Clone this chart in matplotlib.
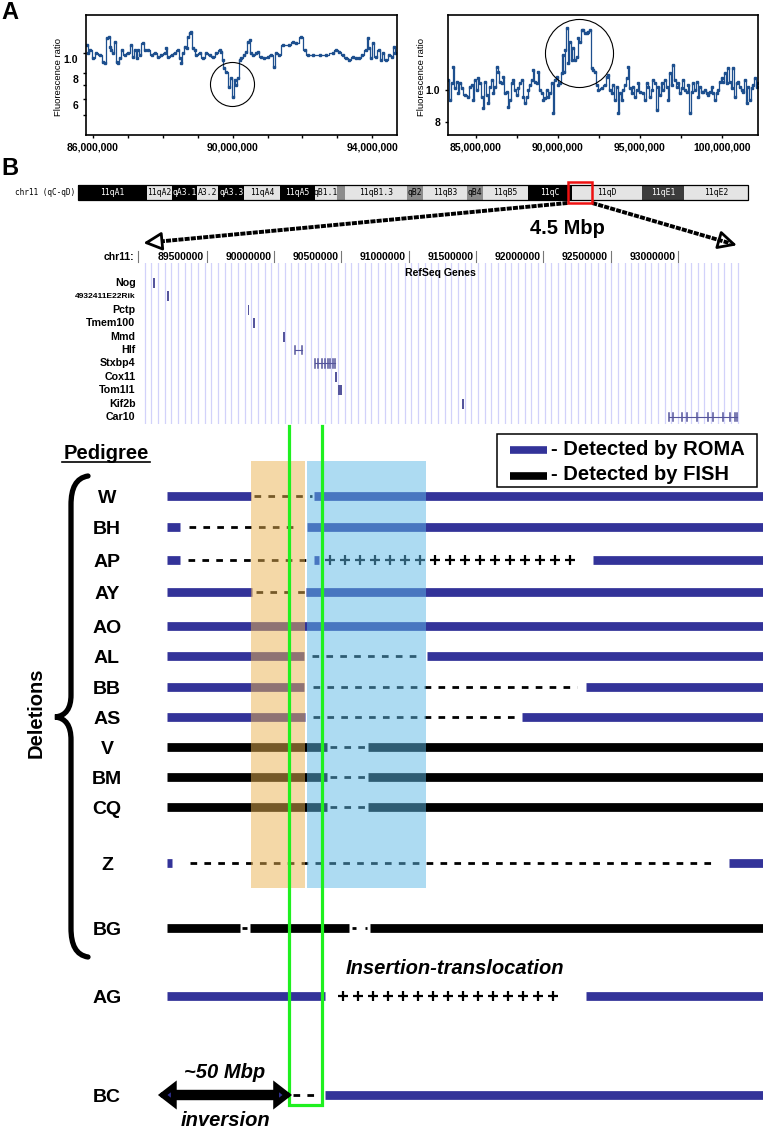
import numpy as np
import matplotlib
matplotlib.use("Agg")
import matplotlib.pyplot as plt
from matplotlib.patches import Rectangle, FancyArrowPatch, PathPatch
from matplotlib.path import Path
from matplotlib.transforms import blended_transform_factory, ScaledTranslation

plt.rcParams["font.family"] = ["Liberation Sans", "DejaVu Sans"]
plt.rcParams["font.weight"] = "bold"

# ---------------------------------------------------------------
# Panel A: ROMA fluorescence ratio profiles (position in Mb, ratio)
# ---------------------------------------------------------------
left_pos = [85.84, 85.87, 85.91, 86.01, 86.10, 86.20, 86.30, 86.34, 86.39, 86.47,
            86.49, 86.53, 86.58, 86.63, 86.68, 86.72, 86.77, 86.82, 86.91, 87.01,
            87.10, 87.15, 87.20, 87.25, 87.30, 87.34, 87.44, 87.49, 87.58, 87.68,
            87.77, 87.87, 87.96, 88.06, 88.10, 88.15, 88.25, 88.34, 88.44, 88.49,
            88.53, 88.58, 88.63, 88.68, 88.72, 88.77, 88.82, 88.87, 88.91, 88.96,
            89.06, 89.15, 89.25, 89.34, 89.44, 89.53, 89.63, 89.68, 89.72, 89.74,
            89.82, 89.91, 89.96, 90.01, 90.06, 90.10, 90.15, 90.20, 90.25, 90.34,
            90.39, 90.44, 90.49, 90.53, 90.58, 90.68, 90.72, 90.82, 90.91, 91.01,
            91.10, 91.20, 91.25, 91.34, 91.44, 91.63, 91.72, 91.82, 91.96, 92.06,
            92.15, 92.30, 92.49, 92.68, 92.87, 92.96, 93.06, 93.15, 93.25, 93.34,
            93.44, 93.53, 93.63, 93.72, 93.82, 93.87, 93.91, 93.96, 94.01, 94.10,
            94.20, 94.25, 94.30, 94.39, 94.49, 94.58, 94.63, 94.66]
left_ratio = [1.094, 0.996, 1.034, 0.942, 0.996, 0.978, 0.908, 0.891, 1.178, 1.191,
              1.073, 1.034, 0.996, 1.135, 0.908, 0.891, 0.942, 1.034, 0.978, 0.996,
              1.094, 0.960, 1.034, 0.942, 1.034, 0.978, 1.114, 1.034, 1.034, 0.978,
              0.996, 0.960, 0.978, 0.996, 1.054, 0.960, 0.978, 0.996, 1.034, 0.942,
              0.891, 0.996, 1.073, 1.054, 1.200, 1.246, 1.269, 1.054, 1.034, 0.978,
              0.996, 0.942, 0.996, 0.978, 0.960, 0.996, 1.034, 1.015, 0.925, 0.843,
              0.812, 0.681, 0.753, 0.614, 0.740, 0.699, 0.753, 0.925, 0.942, 0.978,
              1.015, 1.135, 1.156, 0.996, 0.978, 0.996, 1.015, 0.960, 0.942, 0.960,
              0.978, 0.858, 0.996, 0.978, 1.094, 1.094, 1.135, 1.114, 1.200, 1.034,
              0.978, 0.978, 0.978, 0.978, 0.996, 1.034, 1.015, 0.978, 0.942, 0.925,
              0.960, 0.942, 0.942, 0.978, 1.034, 1.178, 1.054, 0.942, 1.114, 0.960,
              1.034, 0.925, 0.996, 0.925, 0.978, 0.960, 1.073, 0.996]

right_pos = [83.31, 83.41, 83.52, 83.62, 83.72, 83.82, 83.92, 84.02, 84.13, 84.33,
             84.53, 84.63, 84.74, 84.84, 84.94, 85.04, 85.14, 85.24, 85.35, 85.45,
             85.55, 85.65, 85.75, 85.85, 85.96, 86.06, 86.16, 86.26, 86.36, 86.46,
             86.57, 86.67, 86.77, 86.87, 86.97, 87.07, 87.17, 87.28, 87.38, 87.48,
             87.58, 87.68, 87.78, 87.89, 87.99, 88.09, 88.19, 88.29, 88.39, 88.50,
             88.60, 88.70, 88.80, 88.90, 89.00, 89.11, 89.21, 89.31, 89.41, 89.51,
             89.61, 89.72, 89.82, 89.92, 90.02, 90.12, 90.22, 90.28, 90.37, 90.43,
             90.53, 90.63, 90.73, 90.83, 90.93, 91.04, 91.14, 91.24, 91.34, 91.44,
             91.54, 91.65, 91.75, 91.85, 91.95, 92.05, 92.15, 92.26, 92.36, 92.46,
             92.66, 92.87, 92.97, 93.07, 93.17, 93.27, 93.37, 93.48, 93.58, 93.68,
             93.78, 93.88, 93.98, 94.09, 94.19, 94.29, 94.39, 94.49, 94.59, 94.70,
             94.80, 94.90, 95.00, 95.20, 95.30, 95.41, 95.51, 95.61, 95.71, 95.81,
             95.91, 96.02, 96.12, 96.22, 96.32, 96.42, 96.52, 96.63, 96.73, 96.83,
             96.93, 97.03, 97.13, 97.24, 97.34, 97.44, 97.54, 97.64, 97.74, 97.85,
             97.95, 98.05, 98.15, 98.25, 98.35, 98.46, 98.56, 98.66, 98.76, 98.86,
             98.96, 99.07, 99.17, 99.27, 99.37, 99.47, 99.57, 99.67, 99.78, 99.88,
             99.98, 100.08, 100.18, 100.28, 100.39, 100.49, 100.59, 100.69, 100.79, 100.89,
             101.00, 101.10, 101.20, 101.30, 101.40, 101.50, 101.61, 101.71, 101.81, 101.91,
             102.01, 102.11, 102.17]
right_ratio = [1.072, 0.933, 1.048, 1.177, 1.012, 1.060, 0.977, 1.048, 1.012, 0.966,
               0.955, 1.024, 1.036, 0.933, 1.072, 1.000, 1.085, 1.048, 0.955, 0.880,
               1.060, 0.966, 0.911, 1.024, 1.072, 0.977, 1.024, 1.177, 1.137, 1.060,
               1.048, 1.098, 0.977, 0.988, 0.890, 0.933, 1.048, 1.072, 1.000, 0.966,
               1.012, 1.048, 1.072, 0.955, 0.911, 0.955, 1.000, 1.036, 1.072, 1.150,
               1.060, 1.048, 1.137, 1.000, 0.977, 0.933, 0.944, 1.000, 0.955, 0.977,
               1.048, 0.850, 1.072, 1.098, 1.036, 1.048, 1.123, 1.277, 1.137, 1.322,
               1.538, 1.205, 1.401, 1.233, 1.337, 1.233, 1.262, 1.434, 1.401, 1.520,
               1.520, 1.485, 1.485, 1.502, 1.520, 1.163, 1.150, 1.137, 1.036, 1.000,
               1.012, 1.036, 1.098, 1.110, 1.000, 0.977, 1.036, 0.933, 1.024, 0.850,
               0.977, 0.933, 1.000, 1.036, 1.085, 1.177, 1.012, 0.977, 1.024, 0.955,
               1.000, 1.048, 0.988, 0.977, 0.933, 1.048, 1.024, 0.955, 1.000, 1.072,
               1.048, 0.870, 1.024, 0.966, 1.048, 1.000, 1.072, 1.024, 0.933, 1.123,
               1.036, 1.191, 1.072, 1.024, 1.048, 0.977, 1.012, 1.072, 1.000, 0.988,
               1.036, 0.850, 0.988, 1.048, 1.000, 1.060, 0.955, 1.024, 0.988, 0.988,
               1.000, 0.977, 0.966, 0.988, 1.024, 0.977, 0.933, 0.977, 1.000, 1.060,
               1.085, 1.060, 1.123, 1.048, 1.163, 1.060, 1.012, 1.163, 0.955, 1.048,
               1.060, 1.024, 1.000, 0.988, 1.072, 0.911, 1.024, 0.933, 1.012, 1.036,
               1.085, 1.024, 1.048]

# ---------------------------------------------------------------
# Panel B: chromosome 11 bands (Mb)
# ---------------------------------------------------------------
band_names = ["11qA1", "11qA2", "qA3.1", "A3.2", "qA3.3", "11qA4", "11qA5", "qB1.1",
              "", "11qB1.3", "qB2", "11qB3", "qB4", "11qB5", "11qC", "11qD", "11qE1", "11qE2"]
band_starts = [0.0, 12.5, 17.1, 21.6, 25.5, 30.2, 36.7, 43.1, 47.1, 48.5, 59.8, 62.7,
               70.7, 73.6, 81.8, 89.8, 102.5, 110.2]
band_ends = [12.5, 17.1, 21.6, 25.5, 30.2, 36.7, 43.1, 47.1, 48.5, 59.8, 62.7, 70.7,
             73.6, 81.8, 89.8, 102.5, 110.2, 121.8]
band_stains = ["gpos100", "gneg", "gpos100", "gneg", "gpos100", "gneg", "gpos100", "gneg",
               "gpos50", "gneg", "gpos50", "gneg", "gpos50", "gneg", "gpos100", "gneg",
               "gpos75", "gneg"]
chrom_length = 121.8
window = (88.99, 93.484)          # the 4.5 Mbp window shown below

# RefSeq genes in the window (Mb)
gene_names = ["Nog", "4932411E22Rik", "Pctp", "Tmem100", "Mmd", "Hlf", "Stxbp4",
              "Cox11", "Tom1l1", "Kif2b", "Car10"]
gene_starts = [89.107, 89.208, 89.804, 89.849, 90.069, 90.156, 90.305, 90.460,
               90.474, 91.403, 92.933]
gene_ends = [89.110, 89.217, 89.813, 89.853, 90.081, 90.208, 90.455, 90.463,
             90.506, 91.406, 93.442]
gene_exon_marks = {
    "Hlf": [90.156, 90.208],
    "Stxbp4": [90.305, 90.329, 90.354, 90.379, 90.404, 90.416, 90.441, 90.453],
    "Car10": [92.935, 92.964, 93.031, 93.068, 93.143, 93.224, 93.262, 93.336,
              93.388, 93.425, 93.440],
}
track_ticks = [89.5, 90.0, 90.5, 91.0, 91.5, 92.0, 92.5, 93.0]

# ---------------------------------------------------------------
# Pedigree: segments per mouse line (row, start Mb, end Mb)
# ---------------------------------------------------------------
pedigree_rows = ["W", "BH", "AP", "AY", "AO", "AL", "BB", "AS", "V", "BM", "CQ",
                 "Z", "BG", "AG", "BC"]
roma_segments = [("W", 89.205, 89.829), ("W", 90.297, 93.7),
                 ("BH", 89.205, 89.302), ("BH", 90.245, 93.7),
                 ("AP", 89.205, 89.302), ("AP", 90.297, 90.334), ("AP", 92.370, 93.7),
                 ("AY", 89.205, 89.837), ("AY", 90.238, 93.7),
                 ("AO", 89.205, 93.7),
                 ("AL", 89.205, 90.223), ("AL", 91.137, 93.7),
                 ("BB", 89.205, 90.223), ("BB", 92.318, 93.7),
                 ("AS", 89.205, 90.230), ("AS", 91.842, 93.7),
                 ("Z", 89.205, 89.242), ("Z", 93.380, 93.7),
                 ("AG", 89.205, 90.379), ("AG", 92.318, 93.7),
                 ("BC", 90.379, 93.7)]
fish_segments = [("V", 89.205, 90.394), ("V", 90.698, 93.7),
                 ("BM", 89.205, 90.394), ("BM", 90.698, 93.7),
                 ("CQ", 89.205, 90.394), ("CQ", 90.698, 93.7),
                 ("BG", 89.205, 89.747), ("BG", 89.822, 90.557), ("BG", 90.713, 93.7)]
deleted_segments = [("W", 89.851, 90.282), ("BH", 89.368, 90.193), ("AP", 89.361, 90.245),
                    ("AY", 89.866, 90.230), ("AL", 90.282, 91.085), ("BB", 90.290, 92.251),
                    ("AS", 90.290, 91.790), ("V", 90.416, 90.684), ("BM", 90.416, 90.684),
                    ("CQ", 90.416, 90.684), ("Z", 89.376, 93.254), ("BG", 89.762, 89.799),
                    ("BG", 90.579, 90.609), ("BG", 90.676, 90.691), ("BC", 90.141, 90.342)]
inserted_segments = [("AP", 90.416, 92.288), ("AG", 90.513, 92.184)]
inversion_span = (89.138, 90.134)
orange_region = (89.829, 90.230)
blue_region = (90.245, 91.129)
breakpoints = (90.111, 90.357)

# ---------------------------------------------------------------
# layout (pixels of the 763 x 1129 picture)
# ---------------------------------------------------------------
W, H = 763, 1129
BLUE = "#333399"
TRACE = "#1d4f8e"
row_y = {"W": 496, "BH": 527, "AP": 560, "AY": 592, "AO": 626, "AL": 656, "BB": 687,
         "AS": 717, "V": 747, "BM": 777, "CQ": 807, "Z": 863, "BG": 928, "AG": 996,
         "BC": 1095}

fig = plt.figure(figsize=(W / 100, H / 100), dpi=100)


def box(x0, y0, x1, y1):
    return [x0 / W, 1 - y1 / H, (x1 - x0) / W, (y1 - y0) / H]


canvas = fig.add_axes([0, 0, 1, 1])
canvas.set_xlim(0, W)
canvas.set_ylim(H, 0)
canvas.axis("off")

canvas.text(1, 19, "A", fontsize=17, va="baseline")
canvas.text(1, 175, "B", fontsize=17, va="baseline")


# ---- Panel A ----
def profile(rect, pos, ratio, xlim, ylim, major, minor, yticks, ylabels,
            ring, ring_ms, shift_px, ylab_x):
    ax = fig.add_axes(rect)
    ax.plot(pos, ratio, color=TRACE, lw=0.9, drawstyle="steps-mid")
    ax.plot(pos, ratio, ls="none", marker="s", ms=1.7, color=TRACE)
    ax.plot(*ring, marker="o", ms=ring_ms, mfc="none", mec="black", mew=0.8)
    ax.set_yscale("log")
    ax.set_xlim(*xlim)
    ax.set_ylim(*ylim)
    ax.set_xticks(major)
    ax.set_xticklabels([f"{int(round(m * 1e6)):,}" for m in major])
    ax.set_xticks(minor, minor=True)
    ax.set_yticks(yticks)
    ax.set_yticklabels(ylabels)
    ax.yaxis.set_minor_locator(plt.NullLocator())
    ax.tick_params(labelsize=7.5, length=2.5, width=1, pad=3)
    ax.tick_params(which="minor", length=2.5, width=1)
    for lbl in ax.get_yticklabels():
        lbl.set_transform(lbl.get_transform()
                          + ScaledTranslation(0, -shift_px / 100, fig.dpi_scale_trans))
    ax.set_ylabel("Fluorescence ratio", fontsize=6.8)
    ax.yaxis.set_label_coords(ylab_x, 0.48)
    for sp in ax.spines.values():
        sp.set_linewidth(1.2)
    return ax


profile(box(86, 15, 397, 135), left_pos, left_ratio, (85.8, 94.71), (0.40, 1.529),
        [86, 90, 94], [87, 88, 89, 91, 92, 93], [1.0, 0.8, 0.7, 0.6, 0.5],
        ["1.0", "8", "", "6", ""], (89.97, 0.71), 31.7, 6, -0.075)
profile(box(448, 15, 758, 135), right_pos, right_ratio, (83.29, 102.2), (0.731, 1.688),
        [85, 90, 95, 100], [87.5, 92.5, 97.5], [1.0, 0.8], ["1.0", "8"],
        (91.28, 1.295), 49, 0, -0.072)

# ---- ideogram ----
stain_fill = {"gpos100": "black", "gpos75": "#3c3c3c", "gpos50": "#8c8c8c", "gneg": "#e4e4e4"}
ideo = fig.add_axes(box(78, 185, 748, 200))
ideo.set_xlim(0, chrom_length)
ideo.set_ylim(0, 1)
ideo.axis("off")
ideo.bar(band_starts, 1, width=np.array(band_ends) - np.array(band_starts), align="edge",
         color=[stain_fill[s] for s in band_stains], edgecolor="none")
for name, s, e, st in zip(band_names, band_starts, band_ends, band_stains):
    tc = "white" if st in ("gpos100", "gpos75") else "black"
    ideo.text((s + e) / 2, 0.5, name, ha="center", va="center", fontsize=5.8,
              family="DejaVu Sans Mono", fontweight="normal", color=tc)
ideo.add_patch(Rectangle((0, 0), chrom_length, 1, fill=False, lw=0.9, ec="black", clip_on=False))
ideo.add_patch(Rectangle((window[0], -0.2), window[1] - window[0], 1.4, fill=False, lw=1.8,
                         ec="#ee1111", clip_on=False, zorder=5))
canvas.text(15, 192.5, "chr11 (qC-qD)", ha="left", va="center", fontsize=5.6,
            family="DejaVu Sans Mono", fontweight="normal")

# ---- gene track ----
trk = fig.add_axes(box(138, 263, 743, 424))
trk.set_xlim(*window)
trk.set_ylim(len(gene_names) - 0.48, -1.49)
trk.axis("off")
for g in np.arange(89.04, window[1], 0.0495):
    trk.axvline(g, color="#d2d2fa", lw=0.9, zorder=0)
bt = blended_transform_factory(trk.transData, trk.transAxes)
for p in track_ticks:
    trk.text(p - 0.02, 1.037, f"{int(round(p * 1e6))}", transform=bt, ha="right",
             va="center", fontsize=7.5)
    trk.plot([p, p], [1.006, 1.075], transform=bt, color="#777777", lw=0.8, clip_on=False)
trk.plot([window[0], window[0]], [1.006, 1.075], transform=bt, color="#777777", lw=0.8,
         clip_on=False)
trk.text(-0.006, 1.037, "chr11:", transform=trk.transAxes, ha="right", va="center",
         fontsize=7.5)
trk.text(0.5, 0.938, "RefSeq Genes", transform=trk.transAxes, ha="center", va="center",
         fontsize=7.6)
lt = blended_transform_factory(trk.transAxes, trk.transData)
GENE = "#55559c"
min_w = 1.3 * (window[1] - window[0]) / 605
for i, (name, s, e) in enumerate(zip(gene_names, gene_starts, gene_ends)):
    trk.text(-0.004, i, name, transform=lt, ha="right", va="center",
             fontsize=6.0 if len(name) > 8 else 7.7)
    if name in gene_exon_marks:
        trk.plot([s, e], [i, i], color=GENE, lw=0.8)
        for m in gene_exon_marks[name]:
            trk.plot([m, m], [i - 0.32, i + 0.32], color=GENE, lw=1.1)
    else:
        w = max(e - s, min_w)
        trk.add_patch(Rectangle(((s + e - w) / 2, i - 0.38), w, 0.76, color=GENE, lw=0))

# ---- arrows from the red box to the gene track ----
to_canvas = canvas.transData.inverted()
for xa, xb, yb in [(window[0], window[0] + 0.04, 1.124), (window[1], window[1] - 0.045, 1.11)]:
    p0 = to_canvas.transform(ideo.transData.transform((xa, -0.2)))
    p1 = to_canvas.transform(bt.transform((xb, yb)))
    mid = p0 + (p1 - p0) * 0.955
    canvas.plot([p0[0], mid[0]], [p0[1], mid[1]], color="black", lw=2.8,
                dashes=(1.3, 0.3), solid_capstyle="butt")
    canvas.add_patch(FancyArrowPatch(mid, p1, arrowstyle="-|>,head_length=0.8,head_width=0.4",
                                     mutation_scale=14, lw=2.0, ec="black", fc="white",
                                     shrinkA=0, shrinkB=0))
canvas.text(567, 228, "4.5 Mbp", ha="center", va="center", fontsize=14.5)

# ---- pedigree ----
mb_per_px = (window[1] - window[0]) / (743 - 138)
ped = fig.add_axes(box(0, 426, W, H))
ped.set_xlim(window[0] - 138 * mb_per_px, window[0] + (W - 138) * mb_per_px)
ped.set_ylim(H, 426)
ped.axis("off")
ped.patch.set_alpha(0)

for row, s, e in roma_segments:
    ped.plot([s, e], [row_y[row]] * 2, color=BLUE, lw=6.3, solid_capstyle="butt", zorder=2)
for row, s, e in fish_segments:
    ped.plot([s, e], [row_y[row]] * 2, color="black", lw=6.3, solid_capstyle="butt", zorder=2)
for row, s, e in deleted_segments:
    ped.plot([s, e], [row_y[row]] * 2, color="black", lw=2.0, dashes=(2.4, 2.6),
             dash_capstyle="butt", zorder=2)
for row, s, e in inserted_segments:
    xs = np.arange(s, e + 1e-6, 15 * mb_per_px)
    ped.plot(xs, [row_y[row]] * len(xs), ls="none", marker="+", ms=6.8, mew=1.6,
             color="black", zorder=2)

top, bottom = 461, 888
ped.add_patch(Rectangle((orange_region[0], top), orange_region[1] - orange_region[0],
                        bottom - top, color="#ebb351", alpha=0.5, lw=0, zorder=3))
ped.add_patch(Rectangle((blue_region[0], top), blue_region[1] - blue_region[0],
                        bottom - top, color="#5db9e7", alpha=0.5, lw=0, zorder=3))
ped.plot([breakpoints[0], breakpoints[0], breakpoints[1], breakpoints[1]],
         [426, 1105, 1105, 426], color="#1ff01f", lw=2.3, zorder=4,
         solid_joinstyle="miter", clip_on=False)

# inversion arrow for BC
yb = row_y["BC"]
ped.plot([inversion_span[0] + 0.06, inversion_span[1] - 0.06], [yb, yb], color="black",
         lw=7.5, solid_capstyle="butt", zorder=4)
ped.add_patch(FancyArrowPatch((inversion_span[0], yb), (inversion_span[1], yb),
                              arrowstyle="<|-|>,head_length=0.8,head_width=0.62",
                              mutation_scale=10, lw=4.2, ec="black", fc=BLUE,
                              shrinkA=0, shrinkB=0, zorder=5, joinstyle="miter"))

# labels, brace and legend on the canvas
for name in pedigree_rows:
    canvas.text(107, row_y[name] + 7, name, ha="center", va="baseline", fontsize=14)
canvas.text(106, 459, "Pedigree", ha="center", va="baseline", fontsize=14.5)
canvas.plot([62, 150], [462, 462], color="black", lw=1.2)
canvas.text(36, 713, "Deletions", rotation=90, ha="center", va="center", fontsize=14.5)
brace = Path([(88, 476), (76, 478), (71, 488), (71, 505), (71, 695),
              (71, 708), (66, 716), (55, 717), (66, 718), (71, 726), (71, 740),
              (71, 928), (71, 945), (76, 955), (88, 957)],
             [Path.MOVETO, Path.CURVE4, Path.CURVE4, Path.CURVE4, Path.LINETO,
              Path.CURVE4, Path.CURVE4, Path.CURVE4, Path.CURVE4, Path.CURVE4, Path.CURVE4,
              Path.LINETO, Path.CURVE4, Path.CURVE4, Path.CURVE4])
canvas.add_patch(PathPatch(brace, fill=False, lw=3.8, ec="black", capstyle="round"))

canvas.text(455, 968, "Insertion-translocation", ha="center", va="center",
            fontsize=14.5, style="italic")
canvas.text(225, 1072, "~50 Mbp", ha="center", va="center", fontsize=14.5, style="italic")
canvas.text(225, 1120, "inversion", ha="center", va="center", fontsize=14.5, style="italic")

canvas.add_patch(Rectangle((497, 434), 260, 53, fill=False, ec="black", lw=1.1))
canvas.plot([510, 547], [449.5, 449.5], color=BLUE, lw=5.5, solid_capstyle="butt")
canvas.plot([510, 547], [475.5, 475.5], color="black", lw=5.5, solid_capstyle="butt")
canvas.text(551, 455, "- Detected by ROMA", ha="left", va="baseline", fontsize=14.5)
canvas.text(551, 480, "- Detected by FISH", ha="left", va="baseline", fontsize=14.5)

fig.savefig("out.png", dpi=100)
